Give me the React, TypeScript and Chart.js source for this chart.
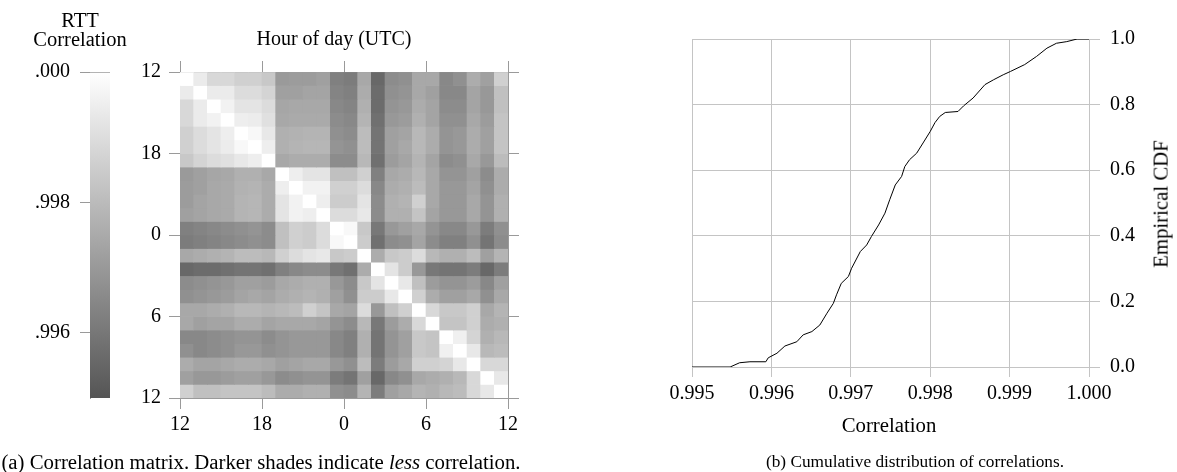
import React, { useEffect, useRef } from 'react';
import { Chart, registerables } from 'chart.js';

Chart.register(...registerables);

// ---------- data ----------
const corrMin = 0.995;
const corrMax = 1.0;

// hours of day along both axes of the matrix (cell i = hour 12+i)
const hourTickValues = [0, 6, 12, 18, 24];
const hourTickLabels = ['12', '18', '0', '6', '12'];

const colorbarTickValues = [0.996, 0.998, 1.0];
const colorbarTickLabels = ['.996', '.998', '.000'];

// upper triangle of the symmetric correlation matrix (row r holds columns r..23)
const corrUpper: number[][] = [
  [1, .99941, .99885, .99885, .99862, .99862, .99838, .99703, .99709, .99709, .99721, .99626, .99615, .99744, .99556, .99662, .99674, .99744, .99744, .99650, .99674, .99756, .99721, .99862],
  [1, .99941, .99941, .99897, .99897, .99874, .99721, .99721, .99732, .99732, .99638, .99626, .99756, .99568, .99674, .99685, .99744, .99721, .99650, .99650, .99732, .99697, .99815],
  [1, .99962, .99921, .99921, .99897, .99738, .99744, .99744, .99744, .99650, .99638, .99768, .99568, .99685, .99697, .99756, .99732, .99662, .99662, .99732, .99697, .99815],
  [1, .99950, .99944, .99909, .99744, .99750, .99750, .99750, .99662, .99650, .99779, .99579, .99697, .99709, .99768, .99732, .99674, .99674, .99744, .99709, .99826],
  [1, .99979, .99932, .99768, .99774, .99779, .99779, .99674, .99662, .99803, .99591, .99721, .99732, .99791, .99756, .99685, .99697, .99756, .99721, .99826],
  [1, .99950, .99768, .99779, .99785, .99785, .99685, .99674, .99803, .99591, .99721, .99744, .99791, .99756, .99685, .99697, .99756, .99721, .99826],
  [1, .99744, .99756, .99756, .99756, .99662, .99662, .99791, .99579, .99709, .99732, .99779, .99732, .99662, .99674, .99744, .99697, .99803],
  [1, .99950, .99921, .99921, .99815, .99815, .99862, .99626, .99744, .99756, .99791, .99744, .99685, .99685, .99721, .99662, .99756],
  [1, .99962, .99962, .99862, .99862, .99897, .99650, .99756, .99768, .99803, .99744, .99697, .99697, .99732, .99674, .99756],
  [1, .99950, .99850, .99850, .99921, .99662, .99768, .99779, .99862, .99744, .99697, .99697, .99744, .99685, .99768],
  [1, .99897, .99897, .99932, .99662, .99768, .99768, .99826, .99732, .99697, .99697, .99744, .99685, .99768],
  [1, .99979, .99838, .99603, .99697, .99721, .99744, .99685, .99650, .99650, .99697, .99615, .99674],
  [1, .99850, .99579, .99662, .99674, .99732, .99662, .99626, .99626, .99674, .99591, .99662],
  [1, .99756, .99838, .99850, .99897, .99791, .99768, .99768, .99803, .99721, .99779],
  [1, .99921, .99850, .99697, .99603, .99591, .99591, .99615, .99556, .99615],
  [1, .99932, .99815, .99709, .99685, .99685, .99709, .99650, .99721],
  [1, .99862, .99756, .99721, .99721, .99744, .99674, .99744],
  [1, .99885, .99838, .99838, .99862, .99744, .99779],
  [1, .99826, .99826, .99862, .99756, .99768],
  [1, .99956, .99874, .99768, .99791],
  [1, .99932, .99791, .99803],
  [1, .99885, .99885],
  [1, .99932],
  [1],
];

// empirical CDF of the correlations
const cdfX = [0.995, 0.99548, 0.99560, 0.99573, 0.99593, 0.99596, 0.99607, 0.99617, 0.99632, 0.99640, 0.99651, 0.99661, 0.99670, 0.99678, 0.99682, 0.99688, 0.99697, 0.99701, 0.99712, 0.99720, 0.99726, 0.99735, 0.99743, 0.99749, 0.99756, 0.99764, 0.99768, 0.99774, 0.99783, 0.99791, 0.99800, 0.99806, 0.99812, 0.99819, 0.99835, 0.99842, 0.99854, 0.99869, 0.99880, 0.99892, 0.99901, 0.99919, 0.99934, 0.99947, 0.99959, 0.99972, 0.99985, 1.0];
const cdfY = [0, 0, 0.013, 0.016, 0.016, 0.028, 0.042, 0.064, 0.077, 0.098, 0.108, 0.128, 0.164, 0.194, 0.22, 0.255, 0.276, 0.301, 0.352, 0.372, 0.398, 0.433, 0.469, 0.51, 0.555, 0.581, 0.611, 0.632, 0.652, 0.683, 0.718, 0.745, 0.764, 0.776, 0.779, 0.796, 0.820, 0.861, 0.876, 0.891, 0.901, 0.922, 0.947, 0.972, 0.987, 0.992, 1.0, 1.0];
const cdfXTicks = [0.995, 0.996, 0.997, 0.998, 0.999, 1.0];
const cdfYTicks = [0, 0.2, 0.4, 0.6, 0.8, 1.0];

// ---------- helpers ----------
const SERIF = '"Liberation Serif", "Times New Roman", serif';
const AXIS = '#9a9a9a';
const GRID = '#c4c4c4';

function grayFor(v: number): string {
  const t = Math.max(0, Math.min(1, (v - corrMin) / (corrMax - corrMin)));
  const g = Math.round(85 + t * 170);
  return `rgb(${g},${g},${g})`;
}

function fullMatrix(): number[][] {
  const n = corrUpper.length;
  const m: number[][] = [];
  for (let r = 0; r < n; r++) {
    const row: number[] = [];
    for (let c = 0; c < n; c++) {
      row.push(r <= c ? corrUpper[r][c - r] : corrUpper[c][r - c]);
    }
    m.push(row);
  }
  return m;
}

const fixTicks = (vals: number[]) => (s: any) => {
  s.ticks = vals.map((v) => ({ value: v }));
};

export default function App() {
  const cbRef = useRef<HTMLCanvasElement>(null);
  const hmRef = useRef<HTMLCanvasElement>(null);
  const cdfRef = useRef<HTMLCanvasElement>(null);

  useEffect(() => {
    Chart.defaults.font.family = SERIF;
    Chart.defaults.color = '#000';

    // ---- colour bar ----
    const cb = new Chart(cbRef.current!, {
      type: 'bar',
      data: {
        labels: ['c'],
        datasets: [
          {
            data: [[corrMin, corrMax]] as any,
            backgroundColor: (ctx: any) => {
              const chart = ctx.chart;
              const ys = chart.scales.y;
              if (!chart.chartArea || !ys) return '#999';
              const g = chart.ctx.createLinearGradient(0, ys.getPixelForValue(corrMin), 0, ys.getPixelForValue(corrMax));
              g.addColorStop(0, grayFor(corrMin));
              g.addColorStop(1, grayFor(corrMax));
              return g;
            },
            borderColor: AXIS,
            borderWidth: { top: 1, left: 0, right: 0, bottom: 0 },
            borderSkipped: false,
            barPercentage: 1,
            categoryPercentage: 1,
          },
        ],
      },
      options: {
        animation: false,
        responsive: false,
        layout: { padding: { top: 72, bottom: 74, right: 20, left: 0 } },
        plugins: { legend: { display: false }, tooltip: { enabled: false }, title: { display: false } },
        scales: {
          x: { display: false },
          y: {
            type: 'linear',
            min: corrMin,
            max: corrMax,
            grid: { drawOnChartArea: false, drawTicks: true, tickLength: 10, color: AXIS },
            border: { display: true, color: AXIS },
            ticks: {
              padding: 10,
              font: { size: 20 },
              callback: (v: any) => {
                const i = colorbarTickValues.findIndex((t) => Math.abs(t - v) < 1e-9);
                return i >= 0 ? colorbarTickLabels[i] : '';
              },
            },
            afterBuildTicks: fixTicks(colorbarTickValues),
            afterFit: (s: any) => { s.width = 90; },
          },
        },
      },
    });

    // ---- heat map ----
    const mat = fullMatrix();
    const datasets = mat.map((row, r) => ({
      data: row.map((_, c) => ({ x: c + 0.5, y: [r, r + 1] })),
      backgroundColor: row.map((v) => grayFor(v)),
      borderWidth: 0,
      barPercentage: 1,
      categoryPercentage: 1,
      grouped: false,
    }));
    const hourLabel = (v: any) => {
      const i = hourTickValues.indexOf(Number(v));
      return i >= 0 ? hourTickLabels[i] : '';
    };
    const frameAxis = (position: string, extra: any) => ({
      type: 'linear',
      position,
      min: 0,
      max: 24,
      offset: false,
      grid: { offset: false, drawOnChartArea: false, drawTicks: true, tickLength: 11, color: AXIS },
      border: { display: true, color: AXIS },
      afterBuildTicks: fixTicks(hourTickValues),
      ...extra,
    });
    const hm = new Chart(hmRef.current!, {
      type: 'bar',
      data: { datasets: datasets as any },
      options: {
        animation: false,
        responsive: false,
        layout: { padding: { top: 61, right: 11, bottom: 0, left: 0 } },
        plugins: { legend: { display: false }, tooltip: { enabled: false } },
        scales: {
          x: frameAxis('bottom', {
            ticks: { padding: 4, font: { size: 20 }, callback: hourLabel, maxRotation: 0 },
            afterFit: (s: any) => { s.height = 74; },
          }),
          x2: frameAxis('top', {
            ticks: { display: false },
            afterFit: (s: any) => { s.height = 11; },
          }),
          y: frameAxis('left', {
            reverse: true,
            ticks: { padding: 8, font: { size: 20 }, callback: hourLabel },
            afterFit: (s: any) => { s.width = 50; },
          }),
          y2: frameAxis('right', {
            reverse: true,
            ticks: { display: false },
            afterFit: (s: any) => { s.width = 11; },
          }),
        } as any,
      },
    });

    // ---- CDF ----
    const cdf = new Chart(cdfRef.current!, {
      type: 'scatter',
      data: {
        datasets: [
          {
            data: cdfX.map((x, i) => ({ x, y: cdfY[i] })),
            showLine: true,
            borderColor: '#000',
            borderWidth: 1,
            pointRadius: 0,
            tension: 0,
          },
        ],
      },
      options: {
        animation: false,
        responsive: false,
        layout: { padding: { top: 39, right: 0, bottom: 0, left: 92 } },
        plugins: { legend: { display: false }, tooltip: { enabled: false } },
        scales: {
          x: {
            type: 'linear',
            min: 0.995,
            max: 1.0,
            grid: { color: GRID, tickLength: 10 },
            border: { display: true, color: GRID },
            ticks: { padding: 5, font: { size: 20 }, callback: (v: any) => Number(v).toFixed(3), maxRotation: 0 },
            afterBuildTicks: fixTicks(cdfXTicks),
            afterFit: (s: any) => { s.height = 105; },
          },
          y: {
            type: 'linear',
            position: 'right',
            min: 0,
            max: 1,
            grid: { color: GRID, tickLength: 11 },
            border: { display: true, color: GRID },
            ticks: { padding: 10, font: { size: 20 }, callback: (v: any) => Number(v).toFixed(1) },
            afterBuildTicks: fixTicks(cdfYTicks),
            afterFit: (s: any) => { s.width = 88; },
          },
        },
      },
    });

    return () => {
      cb.destroy();
      hm.destroy();
      cdf.destroy();
    };
  }, []);

  const txt = (x: number, y: number, size: number, extra: React.CSSProperties = {}): React.CSSProperties => ({
    position: 'absolute',
    left: x,
    top: y,
    transform: 'translate(-50%, -50%)',
    fontFamily: SERIF,
    fontSize: size,
    color: '#000',
    whiteSpace: 'nowrap',
    lineHeight: 1,
    ...extra,
  });

  return (
    <div style={{ position: 'absolute', left: 0, top: 0, width: 1177, height: 472, background: '#fff', overflow: 'hidden' }}>
      <canvas ref={cbRef} width={130} height={472} style={{ position: 'absolute', left: 0, top: 0 }} />
      <canvas ref={hmRef} width={400} height={472} style={{ position: 'absolute', left: 130, top: 0 }} />
      <canvas ref={cdfRef} width={577} height={472} style={{ position: 'absolute', left: 600, top: 0 }} />
      <div style={txt(80, 20, 20.5)}>RTT</div>
      <div style={txt(80, 39, 20.5)}>Correlation</div>
      <div style={txt(334, 38, 20)}>Hour of day (UTC)</div>
      <div style={txt(889, 425, 20.8)}>Correlation</div>
      <div style={txt(1161, 204, 20.8, { transform: 'translate(-50%, -50%) rotate(-90deg)' })}>Empirical CDF</div>
      <div style={txt(261, 462, 20.8)}>
        (a) Correlation matrix. Darker shades indicate <i>less</i> correlation.
      </div>
      <div style={txt(915, 462, 17.3)}>(b) Cumulative distribution of correlations.</div>
    </div>
  );
}
